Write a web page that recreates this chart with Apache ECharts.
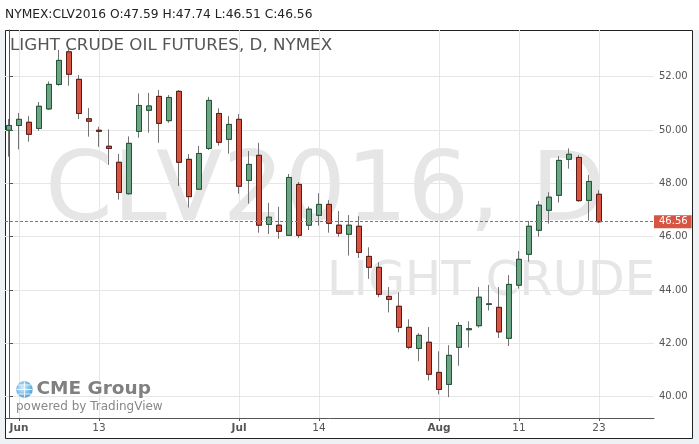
<!DOCTYPE html>
<html><head><meta charset="utf-8">
<script src="https://cdn.jsdelivr.net/npm/echarts@6/dist/echarts.min.js"></script>
<style>html,body{margin:0;padding:0;background:#fff;}#c{width:699px;height:444px;}</style>
</head><body><div id="c"></div>
<script>
// ---- data (NYMEX:CLV2016 daily) ----
const dates = ['2016-05-31',
 '2016-06-01','2016-06-02','2016-06-03','2016-06-06','2016-06-07','2016-06-08','2016-06-09','2016-06-10',
 '2016-06-13','2016-06-14','2016-06-15','2016-06-16','2016-06-17','2016-06-20','2016-06-21','2016-06-22',
 '2016-06-23','2016-06-24','2016-06-27','2016-06-28','2016-06-29','2016-06-30',
 '2016-07-01','2016-07-05','2016-07-06','2016-07-07','2016-07-08','2016-07-11','2016-07-12','2016-07-13',
 '2016-07-14','2016-07-15','2016-07-18','2016-07-19','2016-07-20','2016-07-21','2016-07-22','2016-07-25',
 '2016-07-26','2016-07-27','2016-07-28','2016-07-29',
 '2016-08-01','2016-08-02','2016-08-03','2016-08-04','2016-08-05','2016-08-08','2016-08-09','2016-08-10',
 '2016-08-11','2016-08-12','2016-08-15','2016-08-16','2016-08-17','2016-08-18','2016-08-19','2016-08-22','2016-08-23'];
const opens = [49.99,50.17,50.29,50.06,50.79,51.71,52.93,51.90,50.42,49.99,49.39,48.79,47.61,49.95,50.74,51.26,50.35,
 51.45,48.90,47.78,49.31,50.62,49.65,50.40,48.11,49.05,46.46,46.43,46.05,47.96,46.43,46.80,47.21,46.43,46.09,
 46.39,45.26,44.85,43.76,43.39,42.60,41.81,42.04,40.91,40.46,41.85,42.51,42.66,43.46,43.35,42.19,44.18,45.34,
 46.24,46.99,47.55,48.90,48.97,47.36,47.59];
const closes = [50.17,50.40,49.84,50.89,51.71,52.61,52.09,50.62,50.33,49.95,49.31,47.66,49.50,50.92,50.90,50.25,51.22,
 48.79,47.50,49.12,51.11,49.54,50.21,47.89,48.71,46.43,46.73,46.20,48.22,46.05,47.03,47.21,46.50,46.13,46.43,
 45.41,44.85,43.84,43.65,42.60,41.85,42.30,40.84,40.27,41.55,42.67,42.55,43.73,43.48,42.43,44.21,45.15,46.39,
 47.18,47.48,48.86,49.09,47.35,48.07,46.56];
const lows = [49.00,49.27,49.56,49.97,50.75,51.66,51.66,50.41,49.75,49.37,48.69,47.39,47.58,49.71,49.90,49.52,50.27,
 47.90,47.09,47.76,49.25,49.41,49.11,47.61,47.24,46.15,46.10,45.92,46.05,45.95,46.25,46.41,46.15,46.00,45.29,
 45.20,44.42,43.73,43.16,42.41,41.78,41.33,40.61,40.09,39.98,41.16,41.84,42.59,43.23,42.20,41.90,44.05,45.06,
 46.00,46.49,47.28,48.55,47.31,46.60,46.51];
const highs = [50.41,50.64,50.52,51.05,51.82,53.00,53.03,52.06,50.82,50.12,50.02,49.10,49.76,51.37,51.39,51.50,51.31,
 51.50,49.10,49.40,51.24,50.81,50.52,50.60,49.21,49.52,47.27,47.12,48.35,48.05,47.13,47.63,47.37,46.96,46.81,
 46.77,45.60,45.04,44.11,43.91,42.90,42.38,42.61,41.70,41.93,42.80,42.83,44.11,44.19,44.11,44.56,45.46,46.59,
 47.34,47.67,49.02,49.31,49.06,48.31,47.74];
const xTickIndex = [1, 9, 23, 31, 43, 51, 59];
const xTickText  = ['Jun', '13', 'Jul', '14', 'Aug', '11', '23'];
const yTickValues = [40, 42, 44, 46, 48, 50, 52];

// ---- styles ----
const FONT = 'DejaVu Sans';
const UP = '#6ba583', UPB = '#225437', DN = '#d75442', DNB = '#5b1a13', WICK = '#737375';
const last = dates.length - 1;
const header = 'NYMEX:CLV2016 O:' + opens[last].toFixed(2) + ' H:' + highs[last].toFixed(2) +
  ' L:' + lows[last].toFixed(2) + ' C:' + closes[last].toFixed(2);

const full = dates.map((d, i) => [i, opens[i], closes[i], lows[i], highs[i]]);
const bodies = dates.map((d, i) => [i, opens[i], closes[i],
  Math.min(opens[i], closes[i]), Math.max(opens[i], closes[i])]);
const tickLabel = {};
xTickIndex.forEach((v, k) => { tickLabel[v] = xTickText[k]; });

const chart = echarts.init(document.getElementById('c'), null, {renderer: 'canvas', width: 699, height: 444});
chart.setOption({
  animation: false,
  backgroundColor: '#eef2f5',
  grid: {left: 5, right: 45, top: 30, bottom: 26, containLabel: false},
  xAxis: {
    type: 'value', min: -0.4, max: 64.5, z: 2,
    axisLine: {show: true, lineStyle: {color: '#555', width: 1}},
    axisTick: {show: true, length: 3, customValues: xTickIndex, lineStyle: {color: '#555'}},
    splitLine: {show: true, lineStyle: {color: '#e6e6e6', width: 1}},
    axisLabel: {
      customValues: xTickIndex, margin: 5,
      formatter: v => { const t = tickLabel[v]; return isNaN(+t) ? '{m|' + t + '}' : '{d|' + t + '}'; },
      rich: {
        m: {fontFamily: FONT, fontSize: 10.5, fontWeight: 'bold', color: '#555'},
        d: {fontFamily: FONT, fontSize: 10.5, color: '#555'}
      }
    }
  },
  yAxis: {
    type: 'value', position: 'right', min: 39.2, max: 53.75, z: 2,
    axisLine: {show: true, lineStyle: {color: '#555', width: 1}},
    axisTick: {show: true, length: 4, customValues: yTickValues, lineStyle: {color: '#555'}},
    splitLine: {show: true, lineStyle: {color: '#e6e6e6', width: 1}},
    axisLabel: {customValues: yTickValues, margin: 5, formatter: v => v.toFixed(2),
      fontFamily: FONT, fontSize: 10, color: '#555'}
  },
  graphic: [
    {type: 'rect', z: -5, silent: true, shape: {x: 0, y: 0, width: 699, height: 30}, style: {fill: '#fff'}},
    {type: 'rect', z: -4, silent: true, shape: {x: 5.5, y: 30.5, width: 687, height: 408},
      style: {fill: '#fff', stroke: '#222', lineWidth: 1}},
    {type: 'text', z: -3, silent: true, left: 45, top: 146,
      style: {text: 'CLV2016, D', font: '97px "DejaVu Sans"', fill: '#e6e6e6'}},
    {type: 'text', z: -3, silent: true, left: 327, top: 258.5,
      style: {text: 'LIGHT CRUDE', font: '48px "DejaVu Sans"', fill: '#e6e6e6'}},
    {type: 'text', z: 10, silent: true, x: 5, y: 15,
      style: {text: header, font: '12.25px "DejaVu Sans"', fill: '#222', textVerticalAlign: 'middle'}},
    {type: 'text', z: 10, silent: true, x: 10, y: 46,
      style: {text: 'LIGHT CRUDE OIL FUTURES, D, NYMEX', font: '16.7px "DejaVu Sans"', fill: '#555', textVerticalAlign: 'middle'}},
    {type: 'circle', z: 10, silent: true, shape: {cx: 24.5, cy: 389.5, r: 8},
      style: {fill: new echarts.graphic.RadialGradient(0.4, 0.4, 0.7, [{offset: 0, color: '#d6eefc'}, {offset: 1, color: '#3f9ad6'}]),
        stroke: '#5aa7dc', lineWidth: 0.5}},
    {type: 'polyline', z: 11, silent: true, shape: {points: [[16.5, 389.5], [32.5, 389.5]]}, style: {stroke: '#fff', lineWidth: 0.8}},
    {type: 'polyline', z: 11, silent: true, shape: {points: [[18, 385], [31, 385]]}, style: {stroke: '#fff', lineWidth: 0.8}},
    {type: 'polyline', z: 11, silent: true, shape: {points: [[18, 394], [31, 394]]}, style: {stroke: '#fff', lineWidth: 0.8}},
    {type: 'polyline', z: 11, silent: true, shape: {points: [[24.5, 381.5], [24.5, 397.5]]}, style: {stroke: '#fff', lineWidth: 0.8}},
    {type: 'text', z: 10, silent: true, x: 36.5, y: 389.5,
      style: {text: 'CME Group', font: 'bold 18.5px "DejaVu Sans"', fill: '#808080', textVerticalAlign: 'middle'}},
    {type: 'text', z: 10, silent: true, x: 16, y: 406.5,
      style: {text: 'powered by TradingView', font: '12px "DejaVu Sans"', fill: '#888', textVerticalAlign: 'middle'}}
  ],
  series: [
    {
      type: 'candlestick', name: 'wick', z: 3, silent: true, barWidth: 6,
      encode: {x: 0, y: [1, 2, 3, 4]},
      data: full,
      itemStyle: {color: WICK, color0: WICK, borderColor: WICK, borderColor0: WICK, borderWidth: 1}
    },
    {
      type: 'candlestick', name: 'body', z: 4, silent: true, barWidth: 6, clip: false,
      encode: {x: 0, y: [1, 2, 3, 4]},
      data: bodies,
      itemStyle: {color: UP, color0: DN, borderColor: UPB, borderColor0: DNB, borderWidth: 1},
      markLine: {
        silent: true, symbol: 'none', animation: false,
        lineStyle: {color: DN, type: [3, 2], width: 1},
        label: {show: true, position: 'end', distance: 0, formatter: closes[last].toFixed(2),
          color: '#fff', backgroundColor: DN, padding: [2, 4, 1, 5], fontFamily: FONT, fontSize: 10},
        data: [{yAxis: closes[last]}]
      }
    }
  ]
});
</script>
</body></html>
